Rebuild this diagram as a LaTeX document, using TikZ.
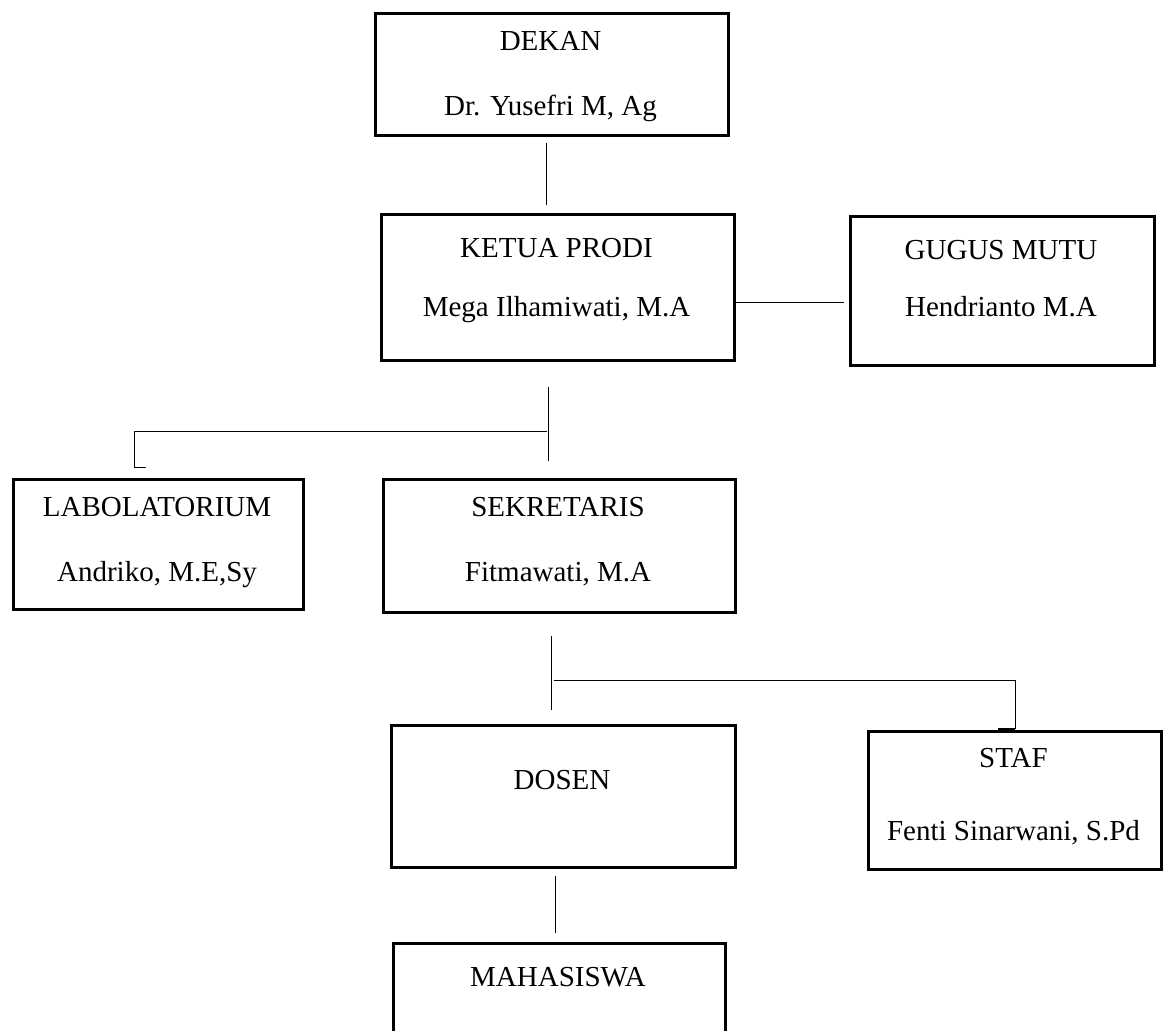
\documentclass[tikz,border=0pt]{standalone}
\usepackage{fontspec}
\setmainfont{Liberation Serif}
\usetikzlibrary{calc}
\begin{document}
\begin{tikzpicture}[x=1pt,y=-1pt,
  box/.style={draw=black, line width=2.6pt, inner sep=0pt, anchor=north west},
  lbl/.style={anchor=base, inner sep=0pt, font=\fontsize{29}{35}\selectfont},
  conn/.style={draw=black, line width=1pt}]
\clip (0,0) rectangle (1171,1031);
\fill[white] (0,0) rectangle (1171,1031);
% boxes
\node[box, minimum width=353pt, minimum height=122pt] (dekan) at (374,12) {};
\node[box, minimum width=353pt, minimum height=146pt] (ketua) at (380,213) {};
\node[box, minimum width=304pt, minimum height=149pt] (gugus) at (849,215) {};
\node[box, minimum width=290pt, minimum height=130pt] (lab) at (12,478) {};
\node[box, minimum width=352pt, minimum height=133pt] (sek) at (382,478) {};
\node[box, minimum width=344pt, minimum height=142pt] (dosen) at (390,724) {};
\node[box, minimum width=293pt, minimum height=138pt] (staf) at (867,730) {};
\node[box, minimum width=332pt, minimum height=110pt] (maha) at (392,942) {};
% texts
\node[lbl] (t1) at (550.5,50.6) {DEKAN};
\node[lbl] (t2) at (550.5,115.6) {Dr. Yusefri M, Ag};
\node[lbl] (t3) at (556.5,257.6) {KETUA PRODI};
\node[lbl] (t4) at (556.5,316.6) {Mega Ilhamiwati, M.A};
\node[lbl] (t5) at (1001,259.6) {GUGUS MUTU};
\node[lbl] (t6) at (1001,316.6) {Hendrianto M.A};
\node[lbl] (t7) at (157,516.6) {LABOLATORIUM};
\node[lbl] (t8) at (157,581.6) {Andriko, M.E,Sy};
\node[lbl] (t9) at (558,516.6) {SEKRETARIS};
\node[lbl] (t10) at (558,581.6) {Fitmawati, M.A};
\node[lbl] (t11) at (562,789.6) {DOSEN};
\node[lbl] (t12) at (1013.5,767.6) {STAF};
\node[lbl] (t13) at (1013.5,840.6) {Fenti Sinarwani, S.Pd};
\node[lbl] (t14) at (558,986.6) {MAHASISWA};
% connector end points
\coordinate (a1) at (546,143);
\coordinate (a2) at (546,205);
\coordinate (b1) at (734,302);
\coordinate (b2) at (844,302);
\coordinate (c1) at (548,387);
\coordinate (c2) at (548,461);
\coordinate (c3) at (547,431);
\coordinate (c4) at (134,431);
\coordinate (c5) at (134,467);
\coordinate (c6) at (146,467);
\coordinate (d1) at (551,636);
\coordinate (d2) at (551,710);
\coordinate (d3) at (554,680);
\coordinate (d4) at (1015,680);
\coordinate (d5) at (1015,729);
\coordinate (d6) at (998,729);
\coordinate (e1) at (555,876);
\coordinate (e2) at (555,933);
% connectors
\draw[conn] (a1) -- (a2);
\draw[conn] (b1) -- (b2);
\draw[conn] (c1) -- (c2);
\draw[conn] (c3) -- (c4) -- (c5) -- (c6);
\draw[conn] (d1) -- (d2);
\draw[conn] (d3) -- (d4) -- (d5);
\draw[draw=black, line width=2pt] (d6) -- (d5);
\draw[conn] (e1) -- (e2);
\end{tikzpicture}
\end{document}
